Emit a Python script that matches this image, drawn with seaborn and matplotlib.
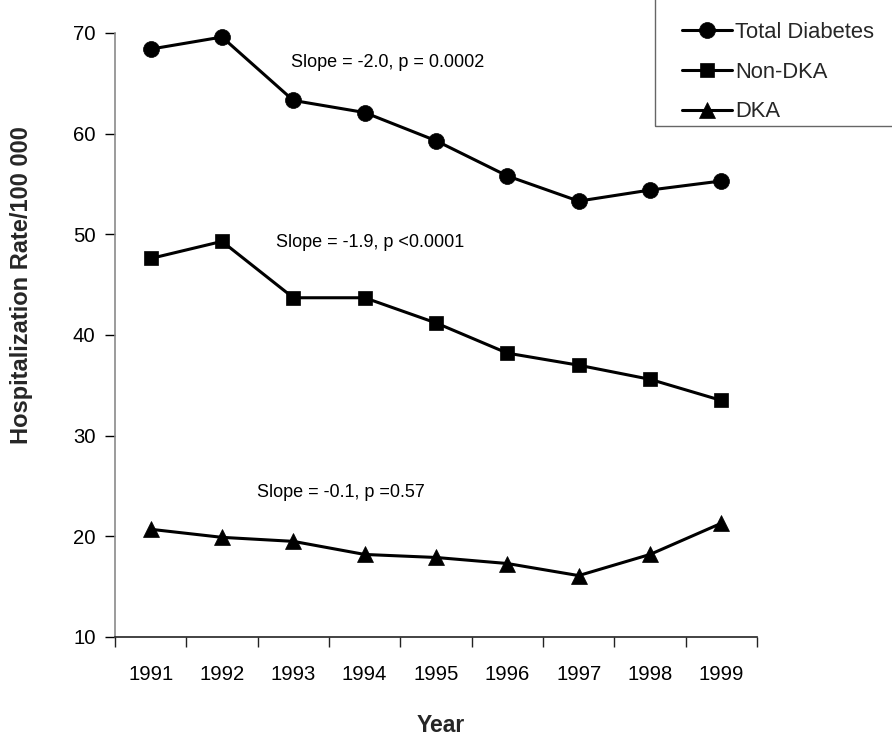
import pandas as pd
import seaborn as sns
import matplotlib.pyplot as plt
from matplotlib.patches import Rectangle

# values
years = ['1991', '1992', '1993', '1994', '1995', '1996', '1997', '1998', '1999']
total_diabetes = [68.4, 69.6, 63.3, 62.1, 59.3, 55.8, 53.3, 54.4, 55.3]
non_dka = [47.6, 49.3, 43.7, 43.7, 41.2, 38.2, 37.0, 35.6, 33.5]
dka = [20.7, 19.9, 19.5, 18.2, 17.9, 17.3, 16.1, 18.2, 21.3]

series_names = ['Total Diabetes', 'Non-DKA', 'DKA']
series_markers = ['o', 's', '^']
series_sizes = [11.5, 10.5, 11.5]

annotations = ['Slope = -2.0, p = 0.0002', 'Slope = -1.9, p <0.0001', 'Slope = -0.1, p =0.57']
annot_x = [1.97, 1.76, 1.49]
annot_y = [67.1, 49.2, 24.4]

y_ticks = [10, 20, 30, 40, 50, 60, 70]


def build_frame():
    """Long-form table with one row per year and series"""
    rows = []
    for name, vals in zip(series_names, [total_diabetes, non_dka, dka]):
        for i, v in enumerate(vals):
            rows.append({'pos': i, 'year': years[i], 'series': name, 'rate': v})
    return pd.DataFrame(rows)


df = build_frame()

sns.set_style('white')
plt.rcParams['font.family'] = ['Liberation Sans', 'DejaVu Sans']

fig = plt.figure(figsize=(8.92, 7.35), dpi=100)
ax = fig.add_axes([115 / 892, 98 / 735, 642 / 892, 604 / 735])

for name, m, ms in zip(series_names, series_markers, series_sizes):
    sub = df[df['series'] == name]
    sns.lineplot(data=sub, x='pos', y='rate', ax=ax, color='black', marker=m,
                 markersize=ms, markeredgecolor='black', markeredgewidth=0.5,
                 linewidth=2.2, label=name, clip_on=False)

# annotations with the slope statistics
for txt, tx, ty in zip(annotations, annot_x, annot_y):
    ax.text(tx, ty, txt, fontsize=13, ha='left', va='center', color='black')

# category axis with ticks between the years
ax.set_xlim(-0.5, len(years) - 0.5)
ax.set_xticks(range(len(years)))
ax.set_xticklabels(years)
ax.set_xticks([i - 0.5 for i in range(len(years) + 1)], minor=True)
ax.tick_params(axis='x', which='major', length=0, pad=20, labelsize=14.6, colors='black')
ax.tick_params(axis='x', which='minor', length=7, width=1, direction='out', color='#222222', bottom=True)

ax.set_ylim(10, 70)
ax.set_yticks(y_ticks)
ax.tick_params(axis='y', which='major', length=7, width=1, direction='out', pad=7,
               labelsize=14.6, colors='black', left=True)

for side in ['top', 'right']:
    ax.spines[side].set_visible(False)
ax.spines['left'].set_color('#8a8a8a')
ax.spines['left'].set_linewidth(1.2)
ax.spines['bottom'].set_color('#222222')
ax.spines['bottom'].set_linewidth(1.2)

ax.set_xlabel('Year', fontsize=16.5, fontweight='bold')
ax.xaxis.set_label_coords(0.508, -0.127)
ax.set_ylabel('Hospitalization Rate/100 000', fontsize=17, fontweight='bold')
ax.yaxis.set_label_coords(-0.127, 0.583)

leg = ax.legend(loc='upper left', bbox_to_anchor=(682 / 892, 1 - 22 / 735),
                bbox_transform=fig.transFigure, frameon=False, fontsize=15.8,
                handlelength=2.3, handletextpad=0.12, labelspacing=0.85,
                borderpad=0, borderaxespad=0)

# legend box runs off the top right corner of the picture
fig.patches.append(Rectangle((655 / 892, 1 - 126 / 735), 0.5, 0.5, fill=False,
                             edgecolor='#666666', linewidth=1.0,
                             transform=fig.transFigure, figure=fig))

fig.savefig('out.png', dpi=100)
plt.close(fig)
